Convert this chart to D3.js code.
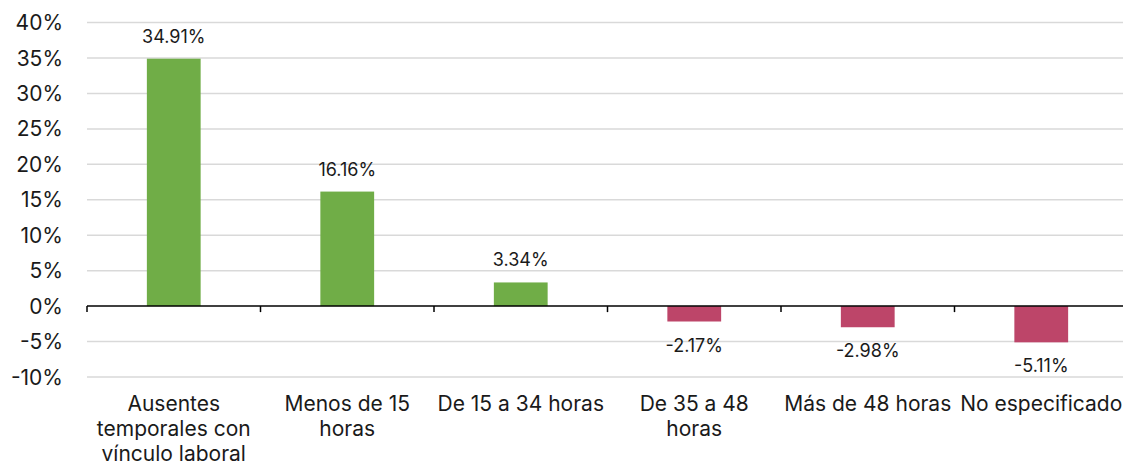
<!DOCTYPE html>
<html>
<head>
<meta charset="utf-8">
<script src="https://d3js.org/d3.v7.min.js"></script>
<style>
  body { margin: 0; background: #fff; }
  svg text { font-family: Inter, "Noto Sans", sans-serif; fill: #1a1a1a; }
</style>
</head>
<body>
<script>
// data
var categories = ["Ausentes temporales con vínculo laboral", "Menos de 15 horas", "De 15 a 34 horas",
                  "De 35 a 48 horas", "Más de 48 horas", "No especificado"];
var categoryLines = [["Ausentes", "temporales con", "vínculo laboral"], ["Menos de 15", "horas"],
                     ["De 15 a 34 horas"], ["De 35 a 48", "horas"], ["Más de 48 horas"], ["No especificado"]];
var values = [34.91, 16.16, 3.34, -2.17, -2.98, -5.11];
var yTicks = [-10, -5, 0, 5, 10, 15, 20, 25, 30, 35, 40];

var W = 1123, H = 464;
var plotLeft = 87, plotRight = 1128, plotTop = 22.6, plotBottom = 377;

var svg = d3.select("body").append("svg")
    .attr("width", W).attr("height", H);

var x = d3.scaleBand().domain(categories).range([plotLeft, plotRight]).padding(0);
var y = d3.scaleLinear().domain([-10, 40]).range([plotBottom, plotTop]);

// gridlines
svg.append("g").selectAll("line")
    .data(yTicks.filter(function(d) { return d !== 0; }))
    .enter().append("line")
    .attr("x1", plotLeft).attr("x2", W)
    .attr("y1", function(d) { return y(d); })
    .attr("y2", function(d) { return y(d); })
    .attr("stroke", "#d9d9d9").attr("stroke-width", 1.5);

// y tick labels
svg.append("g").selectAll("text")
    .data(yTicks)
    .enter().append("text")
    .attr("x", 63)
    .attr("y", function(d) { return y(d); })
    .attr("dy", "0.36em")
    .attr("text-anchor", "end")
    .style("font-size", "21px")
    .text(function(d) { return d + "%"; });

// bars
var barW = x.bandwidth() * 0.31;
svg.append("g").selectAll("rect")
    .data(values)
    .enter().append("rect")
    .attr("x", function(d, i) { return x(categories[i]) + (x.bandwidth() - barW) / 2; })
    .attr("y", function(d) { return d >= 0 ? y(d) : y(0); })
    .attr("width", barW)
    .attr("height", function(d) { return Math.abs(y(d) - y(0)); })
    .attr("fill", function(d) { return d >= 0 ? "#70ad47" : "#bd4569"; });

// value labels
svg.append("g").selectAll("text")
    .data(values)
    .enter().append("text")
    .attr("x", function(d, i) { return x(categories[i]) + x.bandwidth() / 2; })
    .attr("y", function(d) { return d >= 0 ? y(d) - 16 : y(d) + 30; })
    .attr("text-anchor", "middle")
    .style("font-size", "18px")
    .text(function(d) { return d.toFixed(2) + "%"; });

// zero axis with category ticks
var axis = svg.append("g").attr("transform", "translate(0," + y(0) + ")");
axis.append("line")
    .attr("x1", plotLeft).attr("x2", W)
    .attr("stroke", "#000").attr("stroke-width", 1.5);
axis.selectAll(".tk")
    .data(categories)
    .enter().append("line")
    .attr("x1", function(d) { return x(d); })
    .attr("x2", function(d) { return x(d); })
    .attr("y1", 0).attr("y2", 6)
    .attr("stroke", "#000").attr("stroke-width", 1.5);

// category labels
var cl = svg.append("g").selectAll("text")
    .data(categoryLines)
    .enter().append("text")
    .attr("text-anchor", "middle")
    .attr("x", function(d, i) { return x(categories[i]) + x.bandwidth() / 2; })
    .attr("y", 411)
    .style("font-size", "21px");
cl.selectAll("tspan")
    .data(function(d) { return d; })
    .enter().append("tspan")
    .attr("x", function() { return d3.select(this.parentNode).attr("x"); })
    .attr("dy", function(d, i) { return i === 0 ? 0 : 25; })
    .text(function(d) { return d; });
</script>
</body>
</html>
